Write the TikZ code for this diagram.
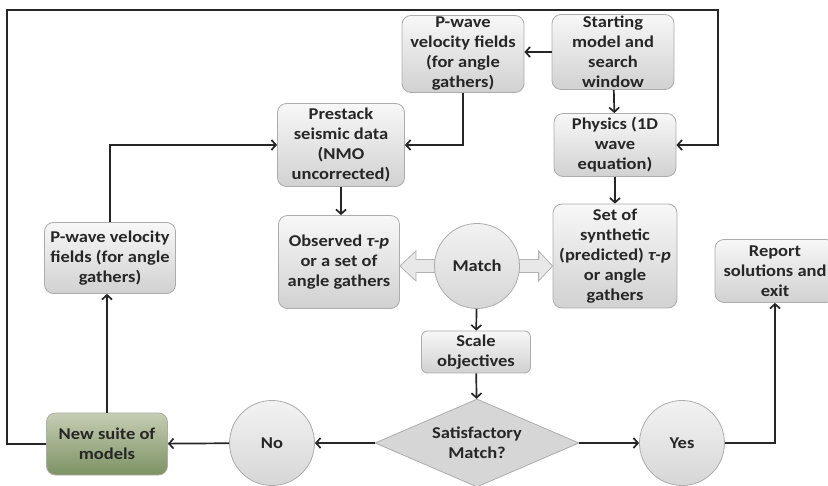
\documentclass[tikz,border=0pt]{standalone}
\usepackage{fontspec}
\setmainfont{Carlito}[FakeStretch=1.12]
\usepackage{tikz}
\usetikzlibrary{arrows.meta, calc, shapes.geometric}
\usetikzlibrary{positioning}
\definecolor{greenTop}{HTML}{C6CDB3}
\definecolor{greenBot}{HTML}{7C9264}
\newcommand{\boxColorTop}{gray!6}
\newcommand{\boxColorBot}{gray!36}
\newcommand{\lineColor}{black!85}
\tikzset{
    base/.style = {draw=gray!65, line width=0.8pt, align=center, text=black!85,
                   font=\bfseries\fontsize{16.5}{20}\selectfont, inner sep=1pt},
    box/.style = {base, rounded corners=9pt, top color=\boxColorTop, bottom color=\boxColorBot},
    boxG/.style = {box, top color=greenTop, bottom color=greenBot},
    blob/.style = {base, circle, minimum size=85pt, top color=gray!10, bottom color=gray!32},
    choice/.style = {base, diamond, aspect=2.3, minimum width=204pt, minimum height=88pt,
                     fill=gray!32},
    hollow/.style = {draw=gray!60, line width=0.8pt, fill=gray!18},
    arr/.style = {draw=\lineColor, line width=1.7pt, -{Straight Barb[length=4.5pt,width=10pt]}}
}

\begin{document}
\begin{tikzpicture}[x=1pt, y=-1pt]
    \useasboundingbox (0,0) rectangle (828,486);
    % boxes of the upper part
    \node[box, minimum width=122pt, minimum height=77pt] (pwTop) at (463,54)
        {P-wave\\velocity fields\\(for angle\\gathers)};
    \node[box, minimum width=122pt, minimum height=75pt] (start) at (613,52)
        {Starting\\model and\\search\\window};
    \node[box, minimum width=122pt, minimum height=63pt] (phys) at (615,145)
        {Physics (1D\\wave\\equation)};
    \node[box, minimum width=127pt, minimum height=83pt] (pre) at (341,145)
        {Prestack\\seismic data\\(NMO\\uncorrected)};
    \node[box, minimum width=121pt, minimum height=93pt] (obs) at (339,262)
        {Observed \textit{τ-p}\\or a set of\\angle gathers};
    \node[box, minimum width=124pt, minimum height=104pt] (synth) at (615,256)
        {Set of\\synthetic\\(predicted) \textit{τ-p}\\or angle\\gathers};
    \node[box, minimum width=131pt, minimum height=71pt] (pwLeft) at (110,258)
        {P-wave velocity\\fields (for angle\\gathers)};
    \node[box, minimum width=120pt, minimum height=63pt] (report) at (775,271)
        {Report\\solutions and\\exit};

    % hollow arrows out of the match
    \coordinate (tipL) at (obs.east |- 0,266);
    \coordinate (tipR) at (synth.west |- 0,266);
    \coordinate (M) at (477,266);
    \draw[hollow] (tipL) -- ++(16,-15) -- ++(0,8.5) -- ($(M)+(-42,-6.5)$)
        -- ($(M)+(-42,6.5)$) -- ($(tipL)+(16,6.5)$) -- ++(0,8.5) -- cycle;
    \draw[hollow] (tipR) -- ++(-14,-15) -- ++(0,8.5) -- ($(M)+(42,-6.5)$)
        -- ($(M)+(42,6.5)$) -- ($(tipR)+(-14,6.5)$) -- ++(0,8.5) -- cycle;

    % lower part
    \node[blob] (match) at (M) {Match};
    \node[box, rounded corners=6pt, minimum width=109pt, minimum height=42pt] (scale) at (476,352)
        {Scale\\objectives};
    \node[choice] (sat) at (477,443) {Satisfactory\\Match?};
    \node[blob] (no) at (272,443) {No};
    \node[blob] (yes) at (682,443) {Yes};
    \node[boxG, minimum width=121pt, minimum height=62pt] (newS) at (107,444)
        {New suite of\\models};

    \coordinate (loopL) at (7,10);
    \coordinate (loopR) at (718,10);

    \draw[arr] (start.west) -- (start.west -| pwTop.east);
    \draw[arr] (start) -- (phys);
    \draw[arr] (phys) -- (synth);
    \draw[arr] (pwTop.south) |- (pre.east);
    \draw[arr] (pwLeft.north) |- (pre.west);
    \draw[arr] (pre.south) -- (pre.south |- obs.north);
    \draw[arr] (match) -- (scale);
    \draw[arr] (scale) -- (sat);
    \draw[arr] (sat) -- (yes);
    \draw[arr] (sat) -- (no);
    \draw[arr] (no) -- (newS);
    \draw[arr] (newS) -- (newS |- pwLeft.south);
    \draw[arr] (yes.east) -| (report.south);
    \draw[arr] (newS.west) -| (loopL) -- (loopR) |- (phys.east);
\end{tikzpicture}
\end{document}
